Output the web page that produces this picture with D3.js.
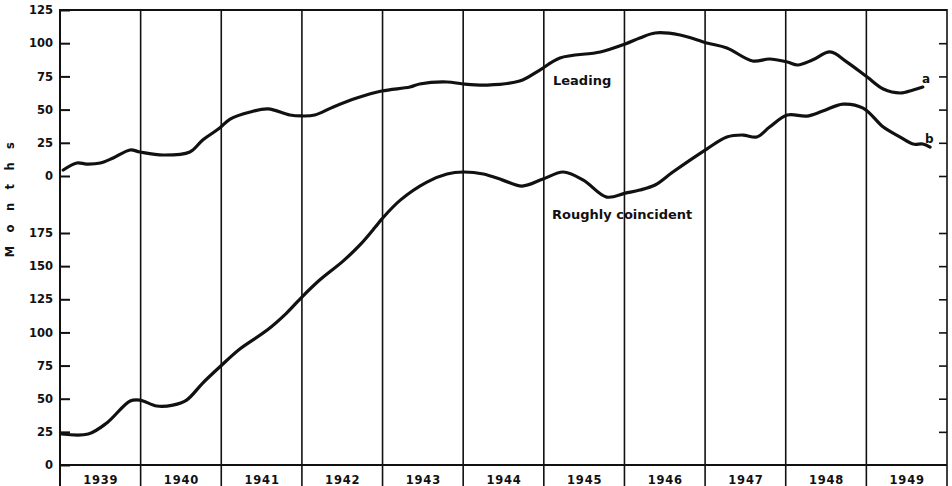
<!DOCTYPE html>
<html>
<head>
<meta charset="utf-8">
<script src="https://cdn.jsdelivr.net/npm/d3@7/dist/d3.min.js"></script>
<style>
  body { margin: 0; background: #fff; }
  svg text { font-family: "DejaVu Sans", Verdana, sans-serif; font-weight: bold; fill: #111; }
</style>
</head>
<body>
<svg id="chart" width="952" height="486"></svg>
<script>
// data
const years = [1939, 1940, 1941, 1942, 1943, 1944, 1945, 1946, 1947, 1948, 1949];
const upperTicks = [0, 25, 50, 75, 100, 125];
const lowerTicks = [0, 25, 50, 75, 100, 125, 150, 175];

// "Leading" curve (a), read against the upper scale
const leadingT = [1939.04, 1939.21, 1939.33, 1939.50, 1939.66, 1939.87, 1939.99, 1940.28, 1940.61, 1940.77,
  1940.98, 1941.11, 1941.36, 1941.58, 1941.85, 1942.00, 1942.16, 1942.39, 1942.68, 1942.99,
  1943.34, 1943.46, 1943.80, 1944.00, 1944.30, 1944.70, 1944.95, 1945.20, 1945.70, 1946.01,
  1946.19, 1946.38, 1946.69, 1947.02, 1947.27, 1947.59, 1947.80, 1948.02, 1948.15, 1948.33,
  1948.55, 1948.76, 1949.01, 1949.21, 1949.42, 1949.58, 1949.70];
const leadingV = [4.5, 9.8, 9.0, 9.8, 13.6, 19.6, 18.1, 15.8, 18.1, 27.1,
  36.1, 42.9, 48.2, 50.5, 45.9, 45.2, 45.9, 52.0, 58.7, 64.0,
  67.0, 69.3, 70.8, 69.3, 68.5, 71.5, 79.8, 88.9, 93.4, 99.4,
  103.9, 107.7, 106.2, 100.2, 96.4, 86.6, 88.1, 85.8, 83.6, 87.3,
  93.4, 85.8, 74.5, 65.5, 62.5, 64.8, 67.0];

// "Roughly coincident" curve (b), read against the lower scale
const coincT = [1939.02, 1939.35, 1939.58, 1939.87, 1939.99, 1940.20, 1940.40, 1940.57, 1940.77, 1940.98,
  1941.23, 1941.57, 1941.81, 1942.00, 1942.22, 1942.51, 1942.72, 1942.91, 1942.99, 1943.22,
  1943.55, 1943.80, 1944.00, 1944.25, 1944.49, 1944.73, 1944.99, 1945.24, 1945.49, 1945.78,
  1946.01, 1946.19, 1946.38, 1946.60, 1947.02, 1947.27, 1947.47, 1947.64, 1947.80, 1948.02,
  1948.26, 1948.46, 1948.71, 1948.96, 1949.21, 1949.42, 1949.58, 1949.70, 1949.79];
const coincV = [23.4, 23.4, 31.7, 48.3, 49.0, 44.5, 45.2, 49.0, 61.8, 73.9,
  87.5, 101.8, 114.6, 126.7, 139.5, 153.8, 166.0, 179.5, 185.5, 199.8,
  213.4, 219.5, 221.0, 219.5, 214.9, 210.4, 215.7, 221.0, 214.9, 202.1,
  205.1, 207.4, 211.2, 221.0, 238.3, 247.4, 248.9, 247.4, 254.9, 264.0,
  263.2, 267.0, 272.2, 269.2, 254.9, 247.4, 242.1, 242.1, 239.8];

const svg = d3.select('#chart');
const margin = {left: 60, right: 947, top: 10, bottom: 465};

const x = d3.scaleLinear().domain([1939, 1950]).range([margin.left, margin.right]);
const yUp = d3.scaleLinear().domain([0, 125]).range([176, margin.top]);
const yLow = d3.scaleLinear().domain([0, 175]).range([margin.bottom, 233]);

// year dividers
svg.append('g')
  .selectAll('line')
  .data(years.slice(1))
  .enter().append('line')
    .attr('x1', d => x(d)).attr('x2', d => x(d))
    .attr('y1', margin.top).attr('y2', 486)
    .attr('stroke', '#111').attr('stroke-width', 1.6);

// frame
svg.append('line').attr('x1', margin.left).attr('x2', margin.left).attr('y1', margin.top - 1).attr('y2', 486)
  .attr('stroke', '#111').attr('stroke-width', 2);
svg.append('line').attr('x1', margin.right).attr('x2', margin.right).attr('y1', margin.top - 1).attr('y2', 486)
  .attr('stroke', '#111').attr('stroke-width', 1.6);
svg.append('line').attr('x1', margin.left).attr('x2', margin.right).attr('y1', margin.top).attr('y2', margin.top)
  .attr('stroke', '#111').attr('stroke-width', 2);
svg.append('line').attr('x1', margin.left).attr('x2', margin.right).attr('y1', margin.bottom).attr('y2', margin.bottom)
  .attr('stroke', '#111').attr('stroke-width', 2);

// left axes
function leftAxis(scale, vals) {
  const g = svg.append('g')
    .attr('transform', 'translate(' + margin.left + ',0)')
    .call(d3.axisLeft(scale).tickValues(vals).tickSize(-10).tickPadding(7));
  g.select('.domain').remove();
  g.selectAll('line').attr('stroke', '#111').attr('stroke-width', 2);
  g.selectAll('text').attr('font-size', 11.5).attr('fill', '#111');
}
leftAxis(yUp, upperTicks);
leftAxis(yLow, lowerTicks);

// right axes (ticks only)
function rightAxis(scale, vals) {
  const g = svg.append('g')
    .attr('transform', 'translate(' + margin.right + ',0)')
    .call(d3.axisRight(scale).tickValues(vals).tickSize(-8).tickFormat(''));
  g.select('.domain').remove();
  g.selectAll('line').attr('stroke', '#111').attr('stroke-width', 1.6);
}
rightAxis(yUp, upperTicks.slice(0, 5));
rightAxis(yLow, lowerTicks.slice(1));

// year labels
const xg = svg.append('g')
  .attr('transform', 'translate(0,' + margin.bottom + ')')
  .call(d3.axisBottom(x).tickValues(years.map(d => d + 0.5)).tickSize(0).tickPadding(10.5)
    .tickFormat((d, i) => years[i]));
xg.select('.domain').remove();
xg.selectAll('text').attr('font-size', 11.5).attr('letter-spacing', 0.8).attr('fill', '#111');

// curves
const line = d3.line().curve(d3.curveCatmullRom.alpha(0.5));
const leadPts = leadingT.map((t, i) => [x(t), yUp(leadingV[i])]);
const coincPts = coincT.map((t, i) => [x(t), yLow(coincV[i])]);

svg.append('path').attr('d', line(leadPts))
  .attr('fill', 'none').attr('stroke', '#111').attr('stroke-width', 3.2)
  .attr('stroke-linejoin', 'round').attr('stroke-linecap', 'round');
svg.append('path').attr('d', line(coincPts))
  .attr('fill', 'none').attr('stroke', '#111').attr('stroke-width', 3.2)
  .attr('stroke-linejoin', 'round').attr('stroke-linecap', 'round');

// labels
svg.append('text').attr('x', 553).attr('y', 85).attr('font-size', 13).text('Leading');
svg.append('text').attr('x', 552).attr('y', 219).attr('font-size', 13).text('Roughly coincident');
svg.append('text').attr('x', 922).attr('y', 83).attr('font-size', 12).text('a');
svg.append('text').attr('x', 925).attr('y', 143).attr('font-size', 12).text('b');

svg.append('text')
  .attr('transform', 'translate(14,193) rotate(-90)')
  .attr('text-anchor', 'middle')
  .attr('font-size', 11.5)
  .attr('letter-spacing', 13.4)
  .text('Months');
</script>
</body>
</html>
